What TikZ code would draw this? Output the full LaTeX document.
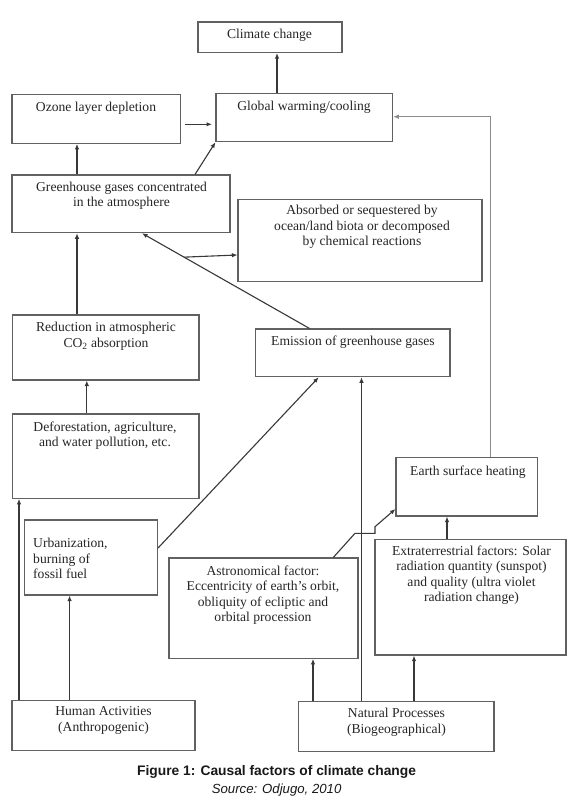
\documentclass[tikz,border=0pt]{standalone}
\usepackage{fontspec}
\setmainfont{Liberation Serif}
\setsansfont{Liberation Sans}
\usetikzlibrary{arrows.meta,fit,calc}
\tikzset{
  box/.style={draw=black!62, line width=1.1pt, inner sep=0pt},
  txt/.style={inner sep=0pt, align=center, anchor=north, text=black!85,
    font=\fontsize{13.6}{15.5}\selectfont},
  arr/.style={draw=black!78, line width=1.1pt, -{Latex[length=5.5pt,width=4.5pt]}},
  thinarr/.style={draw=black!45, line width=0.8pt, -{Latex[length=5.5pt,width=4.5pt]}},
}
\begin{document}
\begin{tikzpicture}[x=1pt,y=-1pt]
\useasboundingbox[fill=white] (0,0) rectangle (571,803);
% boxes
\node[box, fit={(198,22) (342,52.5)}] (cc) {};
\node[box, fit={(12,94.3) (180.6,143.3)}] (oz) {};
\node[box, fit={(216,93.3) (392.7,141.7)}] (gw) {};
\node[box, fit={(12,175) (230,232.7)}] (ghg) {};
\node[box, fit={(238,199.3) (482,281.5)}] (abs) {};
\node[box, fit={(12.8,315) (199,380)}] (red) {};
\node[box, fit={(255.7,329) (450,376.7)}] (em) {};
\node[box, fit={(12.8,414) (199,498.3)}] (def) {};
\node[box, fit={(24.5,520) (157.5,595)}] (urb) {};
\node[box, fit={(396,457.7) (537.7,516)}] (earth) {};
\node[box, fit={(169,558) (358,658.3)}] (astro) {};
\node[box, fit={(375,539.5) (566,655)}] (extra) {};
\node[box, fit={(12,700.7) (195,750.7)}] (human) {};
\node[box, fit={(298.5,701.7) (494,751.7)}] (nat) {};
% texts
\node[txt] (cct) at (269.5,29) {Climate change};
\node[txt] (ozt) at (96,102) {Ozone layer depletion};
\node[txt] (gwt) at (304,101) {Global warming/cooling};
\node[txt] (ghgt) at (121.5,181.7) {Greenhouse gases concentrated\\in the atmosphere};
\node[txt] (abst) at (362,205) {Absorbed or sequestered by\\ocean/land biota or decomposed\\by chemical reactions};
\node[txt] (redt) at (106,322.3) {Reduction in atmospheric\\CO\textsubscript{2} absorption};
\node[txt] (emt) at (353,336) {Emission of greenhouse gases};
\node[txt] (deft) at (105,421.7) {Deforestation, agriculture,\\and water pollution, etc.};
\node[txt, anchor=north west, align=left] (urbt) at (33,538.3) {Urbanization,\\burning of\\fossil fuel};
\node[txt] (eartht) at (468,466) {Earth surface heating};
\node[txt] (astrot) at (263,565.7) {Astronomical factor:\\Eccentricity of earth's orbit,\\obliquity of ecliptic and\\orbital procession};
\node[txt] (extrat) at (471.5,545.7) {Extraterrestrial factors: Solar\\radiation quantity (sunspot)\\and quality (ultra violet\\radiation change)};
\node[txt] (humant) at (103.5,706.7) {Human Activities\\(Anthropogenic)};
\node[txt] (natt) at (396.5,708.3) {Natural Processes\\(Biogeographical)};
\node[anchor=base, inner sep=0pt, font=\sffamily\bfseries\fontsize{13.8}{16}\selectfont, text=black!90] (cap) at (276.6,775) {Figure 1: Causal factors of climate change};
\node[anchor=base, inner sep=0pt, font=\sffamily\itshape\fontsize{13.2}{16}\selectfont, text=black!90] (src) at (276.6,793) {Source: Odjugo, 2010};
% connectors
\draw[arr] (277,0 |- gw.north) -- (277,0 |- cc.south);
\draw[arr] (185,124.3) -- (212,124.3);
\draw[arr] (77,0 |- ghg.north) -- (77,0 |- oz.south);
\draw[arr] (195,0 |- ghg.north) -- (gw.south west);
\draw[thinarr] (490,0 |- earth.north) -- (490,116.7) -- (gw.east |- 0,116.7);
\coordinate (emtop) at (309.5,0 |- em.north);
\coordinate (ghgb) at (142,0 |- ghg.south);
\coordinate (br) at ($(emtop)!0.749!(ghgb)$);
\draw[arr] (emtop) -- (ghgb);
\draw[arr] (br) -- (abs.west |- 0,255);
\draw[arr] (77,0 |- red.north) -- (77,0 |- ghg.south);
\draw[arr] (86.8,0 |- def.north) -- (86.8,0 |- red.south);
\draw[arr] (19,0 |- human.north) -- (19,0 |- def.south);
\draw[arr] (69.6,0 |- human.north) -- (69.6,0 |- urb.south);
\draw[arr] (urb.east |- 0,548) -- (318.7,0 |- em.south);
\draw[arr] (361.5,0 |- nat.north) -- (361.5,0 |- em.south);
\draw[arr] (313,0 |- nat.north) -- (313,0 |- astro.south);
\draw[arr] (414,0 |- nat.north) -- (414,0 |- extra.south);
\draw[arr] (447,0 |- extra.north) -- (447,0 |- earth.south);
\draw[arr] (333.3,0 |- astro.north) -- (355,533.3) -- (375,533.3) -- (375,526.7) -- (earth.west |- 0,509);
\end{tikzpicture}
\end{document}
